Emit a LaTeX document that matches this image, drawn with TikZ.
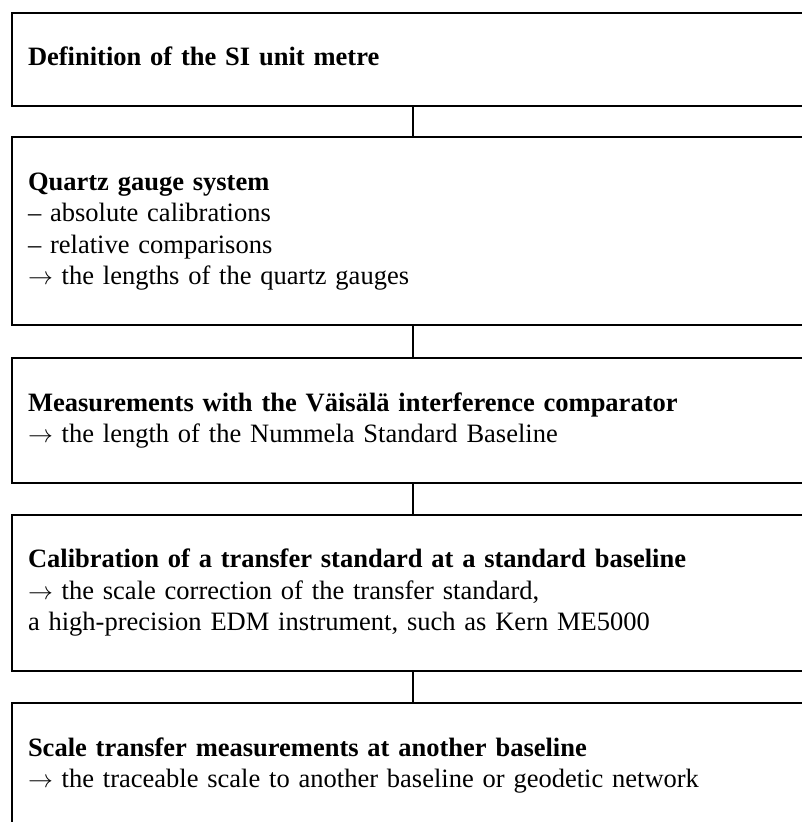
\documentclass[tikz,border=0pt]{standalone}
\usepackage{fontspec}
\setmainfont{Liberation Serif}
\newcommand{\arr}{$\rightarrow$}
\tikzset{
  stagebox/.style={draw, line width=2pt, rectangle, anchor=north west,
    minimum width=802pt, text width=770pt, inner xsep=14pt, inner ysep=0pt,
    align=left, font=\fontsize{26.5}{31.5}\selectfont},
  link/.style={line width=2pt}
}
\begin{document}
\begin{tikzpicture}
\useasboundingbox (0,0) rectangle (802pt,-822pt);
\clip (0,0) rectangle (802pt,-822pt);
\node[stagebox, minimum height=92.5pt] (b1) at (11pt,-12pt)
  {\begin{tabular}{@{}l@{}}\textbf{Definition of the SI unit metre}\end{tabular}};
\node[stagebox, minimum height=188pt] (b2) at (11pt,-136pt)
  {\begin{tabular}{@{}l@{}}\textbf{Quartz gauge system}\\
   – absolute calibrations\\
   – relative comparisons\\
   \arr{} the lengths of the quartz gauges\end{tabular}};
\node[stagebox, minimum height=125pt] (b3) at (11pt,-357pt)
  {\begin{tabular}{@{}l@{}}\textbf{Measurements with the Väisälä interference comparator}\\
   \arr{} the length of the Nummela Standard Baseline\end{tabular}};
\node[stagebox, minimum height=156pt] (b4) at (11pt,-514pt)
  {\begin{tabular}{@{}l@{}}\textbf{Calibration of a transfer standard at a standard baseline}\\
   \arr{} the scale correction of the transfer standard,\\
   a high-precision EDM instrument, such as Kern ME5000\end{tabular}};
\node[stagebox, minimum height=125pt] (b5) at (11pt,-702pt)
  {\begin{tabular}{@{}l@{}}\textbf{Scale transfer measurements at another baseline}\\
   \arr{} the traceable scale to another baseline or geodetic network\end{tabular}};
\draw[link] (b1.south) -- (b2.north);
\draw[link] (b2.south) -- (b3.north);
\draw[link] (b3.south) -- (b4.north);
\draw[link] (b4.south) -- (b5.north);
\end{tikzpicture}
\end{document}
